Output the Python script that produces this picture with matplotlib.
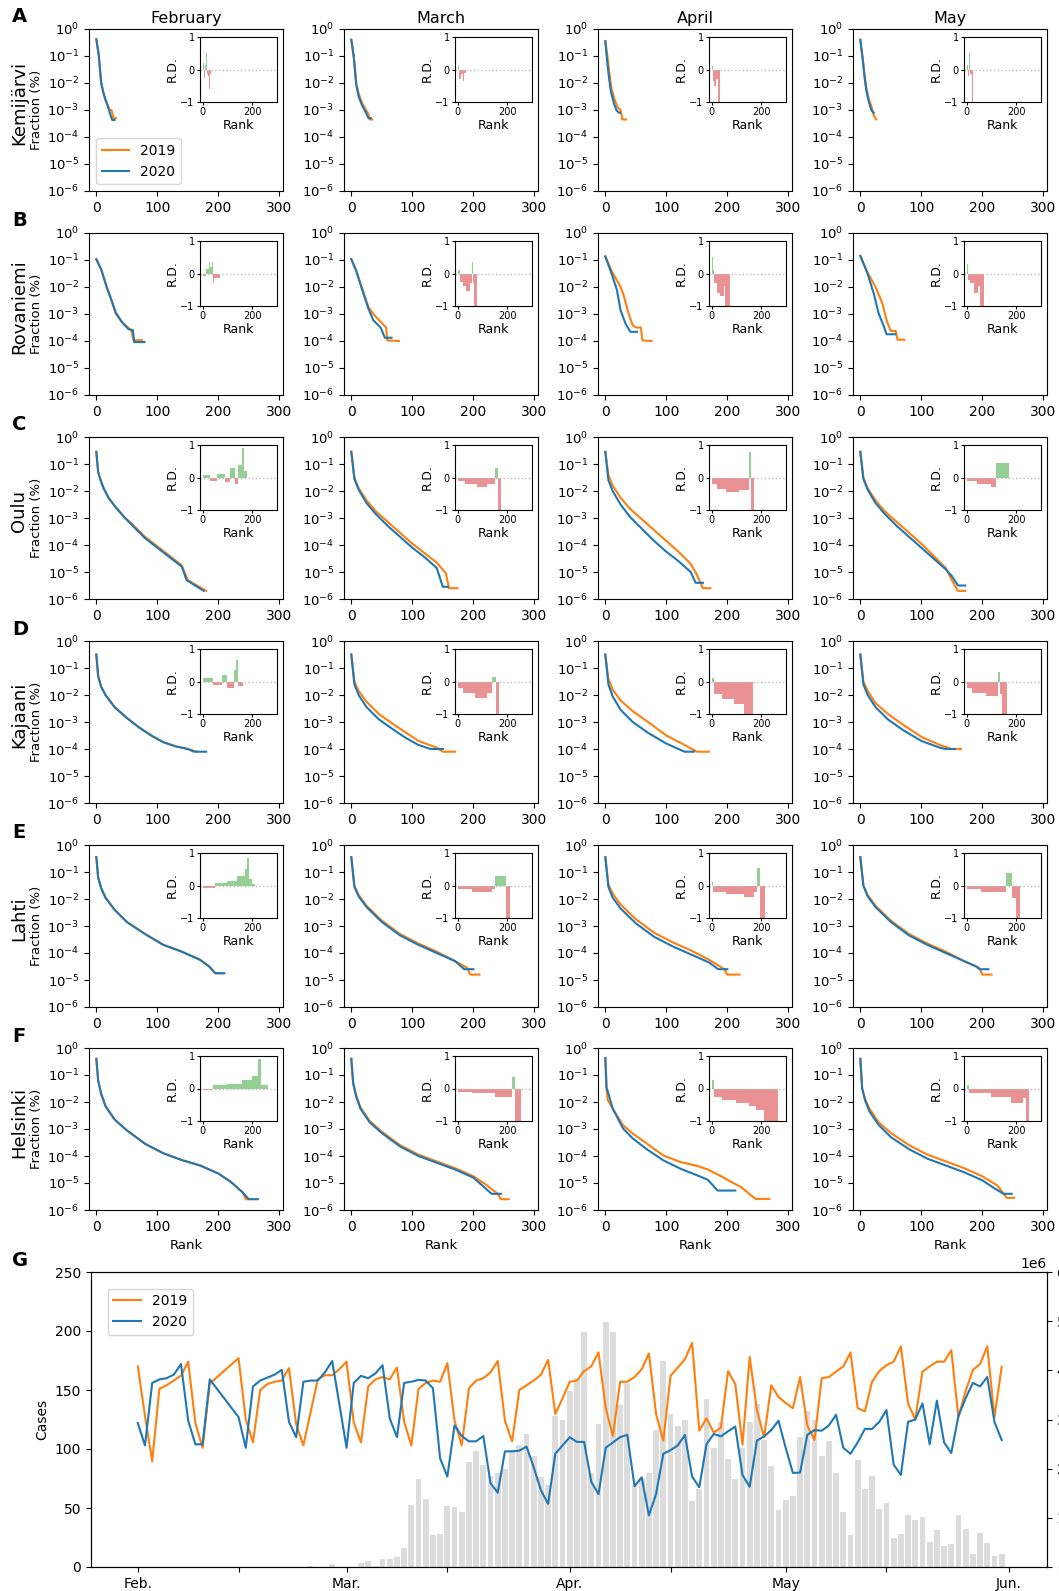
import numpy as np
import matplotlib.pyplot as plt
from matplotlib.ticker import NullLocator

months = ['February', 'March', 'April', 'May']
cities = ['Kemijärvi', 'Rovaniemi', 'Oulu', 'Kajaani', 'Lahti', 'Helsinki']
letters = ['A', 'B', 'C', 'D', 'E', 'F']

# rank-frequency curves, one (rank, log10 fraction) pair per month (Feb..May)
kemijarvi_2019 = [
    ([0, 4, 6, 8, 12, 15, 18, 22, 25, 28, 32], [-0.38, -0.96, -1.5, -2.0, -2.4, -2.65, -2.8, -3.0, -3.0, -3.3, -3.3]),
    ([0, 4, 6, 8, 12, 18, 24, 28, 30, 34], [-0.4, -1.0, -1.5, -2.0, -2.4, -2.75, -3.0, -3.15, -3.35, -3.35]),
    ([0, 4, 7, 10, 15, 20, 25, 28, 34], [-0.45, -1.1, -1.7, -2.2, -2.6, -2.9, -3.0, -3.35, -3.35]),
    ([0, 4, 7, 10, 14, 18, 22, 26], [-0.4, -1.1, -1.7, -2.2, -2.6, -2.85, -3.2, -3.35]),
]
kemijarvi_2020 = [
    ([0, 4, 6, 8, 12, 15, 18, 22, 26, 30], [-0.38, -0.96, -1.5, -2.0, -2.4, -2.6, -2.8, -3.1, -3.37, -3.37]),
    ([0, 4, 6, 8, 12, 18, 24, 28, 32], [-0.4, -1.05, -1.55, -2.05, -2.5, -2.85, -3.1, -3.3, -3.3]),
    ([0, 3, 6, 9, 14, 18, 22, 24], [-0.45, -1.2, -1.8, -2.3, -2.75, -3.0, -3.1, -3.1]),
    ([0, 4, 7, 10, 14, 18, 22], [-0.4, -1.15, -1.8, -2.3, -2.7, -3.0, -3.1]),
]
rovaniemi_2019 = [
    ([0, 8, 17, 25, 32, 42, 52, 58, 61, 75], [-0.97, -1.35, -2.0, -2.5, -3.0, -3.3, -3.5, -3.66, -3.97, -3.97]),
    ([0, 8, 17, 28, 38, 51, 57, 59, 78], [-0.97, -1.4, -2.0, -2.74, -3.05, -3.36, -3.5, -3.98, -4.0]),
    ([0, 11, 25, 30, 38, 45, 50, 58, 61, 76], [-0.87, -1.43, -2.0, -2.3, -2.98, -3.42, -3.5, -3.5, -3.98, -4.0]),
    ([0, 11, 25, 36, 44, 50, 58, 61, 72], [-0.85, -1.43, -2.0, -2.6, -3.3, -3.63, -3.63, -3.95, -3.95]),
]
rovaniemi_2020 = [
    ([0, 8, 17, 25, 32, 42, 52, 60, 62, 79], [-0.97, -1.35, -2.0, -2.5, -2.95, -3.3, -3.55, -3.6, -4.04, -4.04]),
    ([0, 8, 17, 28, 36, 48, 55, 66], [-0.97, -1.4, -2.05, -2.8, -3.23, -3.5, -3.88, -3.88]),
    ([0, 11, 19, 25, 33, 41, 52], [-0.87, -1.55, -2.11, -2.86, -3.35, -3.66, -3.66]),
    ([0, 11, 22, 30, 39, 43, 57], [-0.85, -1.45, -2.24, -2.98, -3.48, -3.75, -3.75]),
]
oulu_2019 = [
    ([0, 3, 7, 12, 20, 30, 45, 60, 80, 100, 120, 140, 150, 180], [-0.55, -1.3, -1.6, -1.9, -2.25, -2.55, -2.95, -3.25, -3.7, -4.05, -4.4, -4.75, -5.3, -5.7]),
    ([0, 5, 12, 25, 40, 60, 80, 100, 120, 140, 155, 160, 174], [-0.55, -1.5, -1.9, -2.35, -2.75, -3.15, -3.55, -3.95, -4.3, -4.65, -5.05, -5.6, -5.6]),
    ([0, 5, 12, 25, 40, 60, 80, 100, 120, 140, 150, 160, 172], [-0.55, -1.4, -1.8, -2.25, -2.65, -3.05, -3.45, -3.85, -4.25, -4.7, -5.1, -5.6, -5.6]),
    ([0, 5, 12, 25, 40, 60, 80, 100, 120, 140, 150, 160, 172], [-0.55, -1.5, -1.9, -2.35, -2.75, -3.15, -3.55, -3.95, -4.4, -4.85, -5.3, -5.7, -5.7]),
]
oulu_2020 = [
    ([0, 3, 7, 12, 20, 30, 45, 60, 80, 100, 120, 140, 148, 176], [-0.55, -1.3, -1.6, -1.9, -2.25, -2.55, -2.95, -3.3, -3.75, -4.1, -4.45, -4.8, -5.3, -5.7]),
    ([0, 5, 12, 25, 40, 60, 80, 100, 120, 140, 150, 158], [-0.55, -1.55, -1.95, -2.45, -2.85, -3.3, -3.7, -4.1, -4.45, -4.85, -5.55, -5.55]),
    ([0, 5, 12, 25, 40, 60, 80, 100, 120, 140, 148, 160], [-0.55, -1.6, -2.0, -2.5, -2.95, -3.4, -3.85, -4.25, -4.6, -5.0, -5.4, -5.4]),
    ([0, 5, 12, 25, 40, 60, 80, 100, 120, 140, 150, 160, 172], [-0.55, -1.55, -1.95, -2.45, -2.85, -3.3, -3.7, -4.1, -4.5, -4.9, -5.15, -5.5, -5.5]),
]
kajaani_2019 = [
    ([0, 3, 8, 15, 30, 50, 70, 90, 110, 130, 150, 165], [-0.5, -1.3, -1.7, -2.0, -2.45, -2.85, -3.2, -3.5, -3.75, -3.9, -4.0, -4.1]),
    ([0, 5, 12, 25, 45, 70, 90, 110, 140, 150, 170], [-0.5, -1.5, -1.85, -2.25, -2.7, -3.1, -3.4, -3.7, -3.95, -4.1, -4.1]),
    ([0, 5, 12, 25, 45, 70, 100, 130, 150, 170], [-0.5, -1.4, -1.8, -2.2, -2.6, -3.0, -3.5, -3.85, -4.1, -4.1]),
    ([0, 5, 12, 25, 45, 70, 100, 130, 150, 165], [-0.5, -1.5, -1.85, -2.3, -2.7, -3.1, -3.55, -3.85, -4.0, -4.0]),
]
kajaani_2020 = [
    ([0, 3, 8, 15, 30, 50, 70, 90, 110, 130, 150, 160, 180], [-0.5, -1.3, -1.7, -2.0, -2.45, -2.85, -3.2, -3.5, -3.75, -3.9, -4.0, -4.1, -4.1]),
    ([0, 5, 12, 25, 45, 70, 90, 110, 130, 150], [-0.5, -1.6, -2.0, -2.45, -2.9, -3.3, -3.6, -3.85, -4.0, -4.0]),
    ([0, 5, 12, 25, 45, 70, 100, 120, 130, 145], [-0.5, -1.6, -2.05, -2.55, -3.0, -3.4, -3.8, -4.0, -4.1, -4.1]),
    ([0, 5, 12, 25, 45, 70, 100, 130, 140, 155], [-0.5, -1.6, -2.0, -2.45, -2.9, -3.3, -3.7, -3.95, -4.0, -4.0]),
]
lahti_2019 = [
    ([0, 3, 8, 15, 30, 50, 80, 110, 140, 170, 185, 195, 205], [-0.45, -1.2, -1.6, -1.95, -2.4, -2.85, -3.3, -3.7, -3.95, -4.25, -4.5, -4.75, -4.75]),
    ([0, 5, 12, 25, 50, 80, 110, 140, 170, 190, 195, 210], [-0.45, -1.5, -1.85, -2.25, -2.8, -3.3, -3.65, -3.95, -4.3, -4.55, -4.8, -4.8]),
    ([0, 5, 12, 25, 50, 80, 110, 140, 170, 195, 200, 220], [-0.45, -1.45, -1.8, -2.2, -2.75, -3.25, -3.6, -3.9, -4.25, -4.6, -4.8, -4.8]),
    ([0, 5, 12, 25, 50, 80, 110, 140, 170, 195, 200, 215], [-0.45, -1.5, -1.85, -2.25, -2.8, -3.3, -3.65, -3.95, -4.3, -4.55, -4.8, -4.8]),
]
lahti_2020 = [
    ([0, 3, 8, 15, 30, 50, 80, 110, 140, 170, 185, 195, 210], [-0.45, -1.2, -1.6, -1.95, -2.4, -2.85, -3.3, -3.7, -3.95, -4.25, -4.5, -4.75, -4.75]),
    ([0, 5, 12, 25, 50, 80, 110, 140, 170, 185, 200], [-0.45, -1.55, -1.9, -2.3, -2.85, -3.35, -3.7, -4.0, -4.3, -4.6, -4.6]),
    ([0, 5, 12, 25, 50, 80, 110, 140, 170, 185, 200], [-0.45, -1.55, -1.95, -2.35, -2.9, -3.4, -3.75, -4.05, -4.35, -4.6, -4.6]),
    ([0, 5, 12, 25, 50, 80, 110, 140, 170, 190, 195, 210], [-0.45, -1.5, -1.9, -2.3, -2.85, -3.35, -3.7, -4.0, -4.3, -4.5, -4.6, -4.6]),
]
helsinki_2019 = [
    ([0, 3, 8, 15, 30, 50, 80, 110, 140, 170, 200, 220, 240, 245, 255], [-0.4, -1.2, -1.7, -2.15, -2.65, -3.05, -3.55, -3.9, -4.15, -4.35, -4.65, -4.95, -5.35, -5.6, -5.6]),
    ([0, 3, 8, 15, 30, 50, 80, 110, 140, 170, 200, 220, 240, 245, 258], [-0.4, -1.3, -1.75, -2.2, -2.7, -3.1, -3.6, -3.95, -4.2, -4.45, -4.75, -5.05, -5.4, -5.6, -5.6]),
    ([0, 2, 4, 12, 29, 45, 68, 95, 123, 151, 168, 190, 207, 223, 246, 269], [-0.37, -1.5, -1.93, -2.24, -2.86, -3.17, -3.54, -3.98, -4.22, -4.37, -4.5, -4.75, -4.97, -5.16, -5.59, -5.59]),
    ([0, 3, 8, 15, 30, 50, 80, 110, 140, 170, 200, 225, 240, 252], [-0.4, -1.5, -1.9, -2.25, -2.75, -3.15, -3.6, -3.95, -4.2, -4.45, -4.75, -5.1, -5.55, -5.55]),
]
helsinki_2020 = [
    ([0, 3, 8, 15, 30, 50, 80, 110, 140, 170, 200, 220, 240, 250, 265], [-0.4, -1.2, -1.7, -2.15, -2.65, -3.05, -3.55, -3.9, -4.15, -4.35, -4.65, -4.95, -5.35, -5.6, -5.6]),
    ([0, 3, 8, 15, 30, 50, 80, 110, 140, 170, 200, 215, 230, 245], [-0.4, -1.3, -1.8, -2.25, -2.75, -3.15, -3.65, -4.0, -4.25, -4.5, -4.8, -5.1, -5.4, -5.4]),
    ([0, 2, 4, 12, 29, 45, 68, 95, 123, 151, 168, 184, 213], [-0.37, -1.5, -1.6, -2.24, -2.98, -3.35, -3.75, -4.16, -4.47, -4.72, -4.88, -5.28, -5.28]),
    ([0, 3, 8, 15, 30, 50, 80, 110, 140, 170, 200, 220, 235, 248], [-0.4, -1.5, -1.95, -2.35, -2.85, -3.3, -3.75, -4.1, -4.35, -4.6, -4.9, -5.2, -5.4, -5.4]),
]

# relative difference (inset): (start rank, end rank, R.D.) per month
kemijarvi_rd = [
    [(0, 4, 0.2), (4, 8, -0.25), (8, 12, 0.15), (12, 16, 0.5), (16, 20, -0.15), (20, 26, -0.2), (26, 29, -0.6), (29, 32, -0.15)],
    [(0, 4, 0.1), (4, 12, -0.3), (12, 20, -0.15), (20, 26, -0.35), (26, 32, -0.1)],
    [(0, 4, 0.1), (4, 10, -0.35), (10, 18, -0.5), (18, 24, -0.3), (24, 34, -1)],
    [(0, 5, 0.15), (5, 10, -0.2), (10, 14, 0.5), (14, 20, -0.15), (20, 24, -1)],
]
rovaniemi_rd = [
    [(0, 15, -0.08), (15, 25, 0.15), (25, 30, 0.35), (30, 38, 0.2), (38, 42, 0.35), (42, 48, -0.3), (48, 72, -0.15)],
    [(0, 10, 0.1), (10, 20, -0.25), (20, 35, -0.4), (35, 50, -0.55), (50, 58, -0.3), (58, 62, 0.35), (62, 66, -0.3), (66, 78, -1)],
    [(0, 5, 0.5), (5, 10, 0.1), (10, 20, -0.3), (20, 35, -0.6), (35, 50, -0.7), (50, 56, -0.4), (56, 76, -1)],
    [(0, 5, 0.3), (5, 15, -0.2), (15, 30, -0.3), (30, 45, -0.6), (45, 56, -0.4), (56, 70, -1)],
]
oulu_rd = [
    [(0, 30, 0.08), (30, 60, -0.1), (60, 90, 0.1), (90, 110, -0.15), (110, 130, 0.3), (130, 145, -0.2), (145, 160, 0.4), (160, 168, 0.9), (168, 180, 0.2)],
    [(0, 30, -0.1), (30, 80, -0.2), (80, 120, -0.3), (120, 150, -0.2), (150, 162, 0.3), (162, 176, -1)],
    [(0, 20, -0.2), (20, 60, -0.35), (60, 110, -0.45), (110, 150, -0.4), (150, 158, 0.8), (158, 170, -1)],
    [(0, 40, -0.1), (40, 100, -0.2), (100, 120, -0.3), (120, 170, 0.45)],
]
kajaani_rd = [
    [(0, 40, 0.1), (40, 80, -0.1), (80, 100, 0.2), (100, 125, -0.2), (125, 135, 0.35), (135, 145, 0.65), (145, 165, -0.15)],
    [(0, 20, -0.2), (20, 70, -0.35), (70, 120, -0.5), (120, 140, -0.35), (140, 155, 0.15), (155, 168, -1)],
    [(0, 10, 0.1), (10, 40, -0.4), (40, 90, -0.55), (90, 130, -0.7), (130, 168, -1)],
    [(0, 20, -0.2), (20, 80, -0.35), (80, 125, -0.45), (125, 135, 0.3), (135, 142, -0.4), (142, 162, -1)],
]
lahti_rd = [
    [(0, 50, -0.08), (50, 100, 0.08), (100, 140, 0.15), (140, 170, 0.3), (170, 180, 0.5), (180, 186, 0.85), (186, 200, 0.2), (200, 210, 0.05)],
    [(0, 60, -0.1), (60, 140, -0.2), (140, 150, -0.1), (150, 195, 0.3), (195, 210, -1)],
    [(0, 5, 0.1), (5, 60, -0.2), (60, 130, -0.25), (130, 170, -0.35), (170, 185, -0.2), (185, 195, 0.55), (195, 215, -1)],
    [(0, 60, -0.1), (60, 160, -0.2), (160, 185, 0.4), (185, 198, -0.4), (198, 215, -1)],
]
helsinki_rd = [
    [(0, 40, -0.05), (40, 100, 0.1), (100, 160, 0.15), (160, 200, 0.25), (200, 225, 0.4), (225, 235, 0.9), (235, 265, 0.1)],
    [(0, 60, -0.1), (60, 150, -0.15), (150, 220, -0.25), (220, 232, 0.35), (232, 256, -1)],
    [(0, 10, 0.25), (10, 40, -0.25), (40, 100, -0.35), (100, 150, -0.45), (150, 180, -0.55), (180, 210, -0.65), (210, 268, -1)],
    [(0, 10, 0.1), (10, 100, -0.15), (100, 180, -0.25), (180, 230, -0.45), (230, 240, -0.3), (240, 252, -1)],
]

# daily cases Feb 1 .. May 31 (None = no value that day)
cases_2019 = [170, 128, 89.6, 151, 154, 158, 162, 174, 122, 101, 155.5, None, None, None, 177, 125, 105.6, 150, 155, 157,
              158, 168.5, 121, 103, 131, 159, 162.5, 162.5, 167.6, 174, 122.5, 105.6, 153, 159, 161, 159, 169, 123, 103, 151,
              156, 158, 157, 172.7, 124, 103, 151.5, 158, 160, 165, 174.6, 124, 106.5, 150, 154, 158, 163, 175.5, 129.6, 143,
              157, 158, 166, 170, 182, 134.6, 111, 157, 157, 161, 167.6, 181, 129.6, 107, 162, 169, 176, 190, 115.5, 126,
              114, 118, 166, 155, 103.7, 178, 133, 110, 154, 144, 139, 134.6, 161, 120, 107.6, 160, 161, 165.6, 170, 181.7,
              134.6, 132, 157, 166, 171, 174, 187, 138.6, 125, 165.6, 170, 174, 174, 183.7, 127, 149, 167, 172, 187, 127, 169.6]
cases_2020 = [122, 103, 156, 159, 160, 163, 172, 124, 104, 104, 159, None, None, None, 127, 101, 153, 158, 160.5, 163,
              167, 123, 110, 157, 158, 158, 165, 174.6, 138, 101, 156, 162, 160, 164, 171, 126, 110, 156, 157, 158.6,
              158, 151.5, 92, 76.6, 120, 111, 106.5, 106.5, 111, 71, 63, 98, 98, 98.6, 102, 84.5, 65, 53.5, 96, 103,
              110, 106, 106, 72, 61.7, 101, 105.6, 110, 112, 68.5, 76, 43.7, 62, 96, 99, 103, 112, 76.6, 67.6, 104,
              112.7, 110.7, 115, 119, 78, 68, 107, 110.7, 116, 124, 101, 79.7, 80, 112, 116, 115.5, 120, 129, 101, 96,
              105.6, 117, 117, 123, 133, 86.8, 78, 123, 125, 138.6, 104, 141, 105.6, 96.6, 128, 143, 156, 153, 161, 123, 107.6]
# grey bars, right axis, in millions
bars_mil = [0, 0, 0, 0, 0, 0, 0, 0, 0, 0.01, 0, 0, 0, 0, 0, 0, 0, 0, 0, 0,
            0, 0.01, 0.01, 0, 0.02, 0, 0, 0.06, 0.01, 0.01, 0.01, 0.08, 0.12, 0.02, 0.16, 0.16, 0.2, 0.39, 1.27, 1.8,
            1.39, 0.65, 0.67, 1.25, 1.22, 1.12, 2.14, 2.35, 2.08, 1.86, 1.92, 1.99, 2.37, 2.49, 2.7, 2.26, 1.84, 1.67, 3.07, 2.99,
            3.57, 3.84, 4.77, 1.92, 2.9, 4.99, 4.78, 3.3, 3.74, 1.66, 1.82, 1.91, 2.78, 4.19, 3.11, 2.87, 2.99, 1.34, 1.58, 3.41,
            2.42, 2.95, 2.2, 1.8, 2.42, 2.94, 3.31, 2.58, 2.06, 1.15, 1.37, 1.45, 2.64, 3.17, 2.98, 2.26, 2.57, 1.92, 1.12, 0.65,
            2.18, 1.58, 1.86, 1.18, 1.3, 0.58, 0.67, 1.06, 0.96, 1.01, 0.5, 0.76, 0.42, 0.46, 1.06, 0.77, 0.26, 0.7, 0.48, 0.22, 0.26]
date_ticks = [0, 14, 29, 43, 60, 74, 90, 104, 121]
date_labels = ['Feb.', '', 'Mar.', '', 'Apr.', '', 'May', '', 'Jun.']

panels = {
    'Kemijärvi': (kemijarvi_2019, kemijarvi_2020, kemijarvi_rd),
    'Rovaniemi': (rovaniemi_2019, rovaniemi_2020, rovaniemi_rd),
    'Oulu': (oulu_2019, oulu_2020, oulu_rd),
    'Kajaani': (kajaani_2019, kajaani_2020, kajaani_rd),
    'Lahti': (lahti_2019, lahti_2020, lahti_rd),
    'Helsinki': (helsinki_2019, helsinki_2020, helsinki_rd),
}

W, H = 1059, 1591
fig = plt.figure(figsize=(W / 100, H / 100), dpi=100)
col_left = [89, 344, 598, 853]
row_top = [29, 233, 437, 641, 845, 1048]
aw, ah = 194, 162

for i, city in enumerate(cities):
    c19, c20, rd = panels[city]
    for j, month in enumerate(months):
        ax = fig.add_axes([col_left[j] / W, 1 - (row_top[i] + ah) / H, aw / W, ah / H])
        r, f = c19[j]
        ax.plot(r, 10 ** np.array(f), color='tab:orange', lw=1.5, label='2019')
        r, f = c20[j]
        ax.plot(r, 10 ** np.array(f), color='tab:blue', lw=1.5, label='2020')
        ax.set_yscale('log')
        ax.set_ylim(1e-6, 1)
        ax.set_yticks([1e-6, 1e-5, 1e-4, 1e-3, 1e-2, 1e-1, 1])
        ax.yaxis.set_minor_locator(NullLocator())
        ax.set_xlim(-12, 306)
        ax.set_xticks([0, 100, 200, 300])
        ax.tick_params(axis='x', labelsize=10)
        ax.tick_params(axis='y', labelsize=9.5)
        if i == 0:
            ax.set_title(month, fontsize=11.5, pad=4)
        if i == 5:
            ax.set_xlabel('Rank', fontsize=9.5)
        if j == 0:
            ax.set_ylabel('Fraction (%)', fontsize=9.5)
            ax.yaxis.set_label_coords(-0.235, 0.5)
            fig.text(19 / W, 1 - (row_top[i] + 74) / H, city, rotation=90,
                     ha='center', va='center', fontsize=13)
        if i == 0 and j == 0:
            ax.legend(loc='lower left', fontsize=10)

        ins = ax.inset_axes([0.573, 0.55, 0.395, 0.40])
        for s, e, v in rd[j]:
            col = '#2ca02c' if v > 0 else '#d62728'
            ins.bar(s, v, width=e - s, align='edge', color=col, alpha=0.5, lw=0)
        ins.axhline(0, color='#bbbbbb', ls=':', lw=1)
        ins.set_xlim(-10, 300)
        ins.set_ylim(-1, 1)
        ins.set_xticks([0, 200])
        ins.set_yticks([-1, 0, 1])
        ins.tick_params(labelsize=7, length=2.5, pad=1.5)
        ins.set_xlabel('Rank', fontsize=9, labelpad=1)
        ins.set_ylabel('R.D.', fontsize=9, labelpad=1)

    fig.text(12 / W, 1 - (row_top[i] - 12) / H, letters[i], fontsize=14,
             fontweight='bold', va='center')

# panel G
days = np.arange(len(bars_mil))
axg = fig.add_axes([91 / W, 1 - 1567 / H, 956 / W, 295 / H])
axb = axg.twinx()
axb.bar(days, np.array(bars_mil) * 1e6, width=0.8, color='#dcdcdc')
axb.set_ylim(0, 6e6)
axb.tick_params(labelsize=10)
axb.yaxis.get_offset_text().set_fontsize(10)
axg.set_zorder(axb.get_zorder() + 1)
axg.patch.set_visible(False)

d19 = [d for d, v in zip(days, cases_2019) if v is not None]
v19 = [v for v in cases_2019 if v is not None]
d20 = [d for d, v in zip(days, cases_2020) if v is not None]
v20 = [v for v in cases_2020 if v is not None]
axg.plot(d19, v19, color='tab:orange', lw=1.5, label='2019')
axg.plot(d20, v20, color='tab:blue', lw=1.5, label='2020')
axg.set_ylim(0, 250)
axg.set_xlim(-6.5, 126.3)
axg.set_xticks(date_ticks)
axg.set_xticklabels(date_labels)
axg.tick_params(labelsize=10)
axg.set_ylabel('Cases', fontsize=10)
axg.legend(loc='upper left', fontsize=10, borderaxespad=1.2)
fig.text(12 / W, 1 - 1260 / H, 'G', fontsize=14, fontweight='bold', va='center')

fig.savefig('out.png', dpi=100)
